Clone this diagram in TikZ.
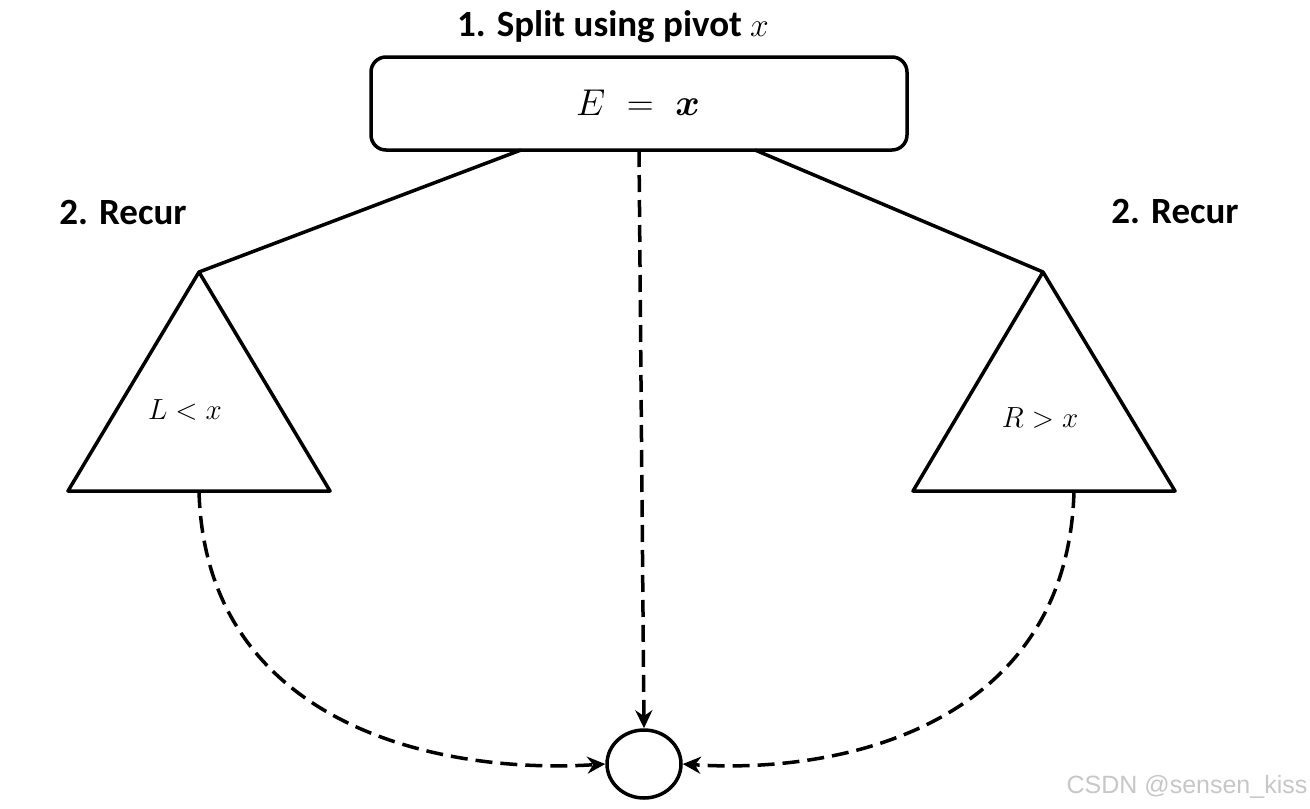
\documentclass[tikz,border=0pt]{standalone}
\usepackage{bm}
\usepackage{graphicx}
\usepackage{fontspec}
\setsansfont{Carlito}
\usetikzlibrary{arrows.meta,shapes.geometric}
\newcommand{\bigmath}[2]{\scalebox{#1}{\Huge$#2$}}
\begin{document}
\begin{tikzpicture}[x=1pt,y=-1pt,
  lbl/.style={font=\sffamily\bfseries\fontsize{37}{42}\selectfont, inner sep=0pt},
  mth/.style={inner sep=0pt},
  thick line/.style={line width=3.5pt, line join=round},
  dsh/.style={line width=3.5pt, dash pattern=on 17pt off 8pt, -{Stealth[length=18pt,width=17pt]}}
]
\useasboundingbox (0,0) rectangle (1310,809);
\node[lbl] (title) at (613,27) {1. Split using pivot \bigmath{1.35}{x}};
\draw[thick line, rounded corners=15pt] (371,57) rectangle (907,150);
\node[inner sep=0pt, minimum width=536pt, minimum height=93pt] (E) at (639,103.5) {};
\node[mth] (Etext) at (638,103) {\bigmath{1.5}{E\ =\ \bm{x}}};
\coordinate (Eleft) at (521,150);
\coordinate (Eright) at (755,150);
\coordinate (Emid) at (639,150);
% triangles
\coordinate (La) at (199,272);
\coordinate (Lb1) at (68,491);
\coordinate (Lb2) at (330,491);
\coordinate (Lbot) at (199,491);
\coordinate (Ra) at (1043,272);
\coordinate (Rb1) at (913,491);
\coordinate (Rb2) at (1175,491);
\coordinate (Rbot) at (1074,491);
\draw[thick line] (La) -- (Lb1) -- (Lb2) -- cycle;
\draw[thick line] (Ra) -- (Rb1) -- (Rb2) -- cycle;
\draw[thick line] (Eleft) -- (La);
\draw[thick line] (Eright) -- (Ra);
\node[mth] (Ltext) at (185,410) {\bigmath{1.17}{L < x}};
\node[mth] (Rtext) at (1040,418) {\bigmath{1.17}{R > x}};
\node[lbl] (recL) at (123,213) {2. Recur};
\node[lbl] (recR) at (1175,211) {2. Recur};
% circle
\node[draw, line width=3.5pt, ellipse, minimum width=74pt, minimum height=68pt, inner sep=0pt] (C) at (644,764) {};
\draw[dsh] (Emid) -- (C.north);
\draw[dsh] (Lbot) .. controls (205,720) and (430,775) .. (C.west);
\draw[dsh] (Rbot) .. controls (1068,720) and (850,775) .. (C.east);
\node[font=\fontsize{25}{29}\selectfont\fontspec{Liberation Sans}, text=black!22, inner sep=0pt] (wm) at (1187,787) {CSDN @sensen\_kiss};
\end{tikzpicture}
\end{document}
